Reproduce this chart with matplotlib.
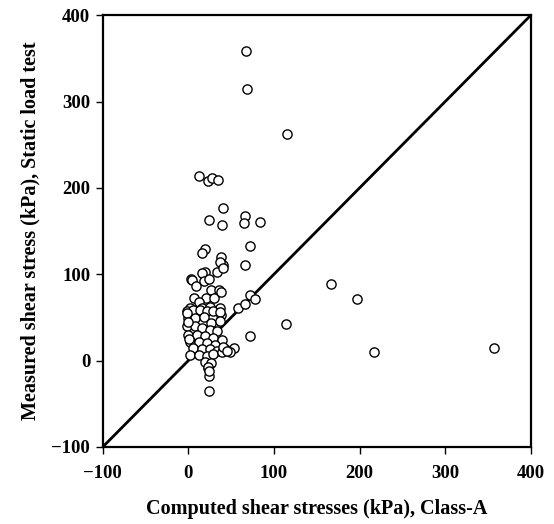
import matplotlib.pyplot as plt

plt.rcParams['font.family'] = ['Liberation Serif', 'DejaVu Serif']
plt.rcParams['font.weight'] = 'bold'

# computed (Class-A) vs measured shear stress, kPa
computed = [
    67, 68, 115,
    13, 23, 28, 35, 41, 24, 39, 66, 65, 84, 72,
    20, 16, 38, 41, 37, 66, 19, 16, 33, 40, 3, 4, 9, 18, 24,
    27, 36, 7, 21, 30, 12, 2, 16, 25, 37, 38, 38,
    58, 66, 72, 78,
    -2, 6, 14, 22, 29, 37, 0, 8, 18, 27, 37, -2, 8, 16, 25, 33,
    0, 10, 20, 29, 39, 2, 12, 22, 31, 6, 16, 25, 33, 43, 53,
    2, 12, 22, 29, 39, 49, 20, 27, 23, 24, 24, 23, 24,
    40, 45, 72, -1, 0, 1,
    114, 167, 197, 217, 357,
]
measured = [
    359, 315, 263,
    214, 208, 212, 209, 177, 163, 157, 168, 159, 161, 133,
    129, 125, 120, 111, 114, 111, 103, 102, 103, 107, 95, 93, 87, 92, 95,
    82, 82, 72, 72, 72, 68, 61, 61, 62, 61, 79, 53,
    61, 66, 76, 71,
    58, 59, 59, 57, 57, 56, 49, 49, 51, 44, 46, 40, 40, 38, 36, 34,
    30, 30, 28, 26, 24, 22, 22, 20, 18, 15, 13, 13, 11, 13, 15,
    7, 7, 5, 8, 10, 10, -1, -3, -9, -18, -35, -7, -12,
    16, 11, 28, 55, 45, 25,
    43, 89, 71, 10, 15,
]

fig = plt.figure(figsize=(5.54, 5.24), dpi=100)
ax = fig.add_axes([0.1854, 0.147, 0.7726, 0.8238])

ax.plot([-100, 400], [-100, 400], color='black', lw=2, zorder=1)
ax.scatter(computed, measured, s=44, facecolors='white', edgecolors='black',
           linewidths=1, zorder=2)

ax.set_xlim(-100, 400)
ax.set_ylim(-100, 400)
ax.set_xticks([-100, 0, 100, 200, 300, 400])
ax.set_yticks([-100, 0, 100, 200, 300, 400])
ax.tick_params(direction='out', length=5, width=1, labelsize=13.5)
ax.tick_params(axis='x', pad=8)
ax.tick_params(axis='y', pad=4)
for lab in ax.get_xticklabels() + ax.get_yticklabels():
    lab.set_fontweight('bold')
for sp in ax.spines.values():
    sp.set_linewidth(1.6)

ax.set_xlabel('Computed shear stresses (kPa), Class-A', fontsize=14.5,
              fontweight='bold', labelpad=12)
ax.set_ylabel('Measured shear stress (kPa), Static load test', fontsize=14.5,
              fontweight='bold', labelpad=8)

fig.savefig('out.png', dpi=100)
